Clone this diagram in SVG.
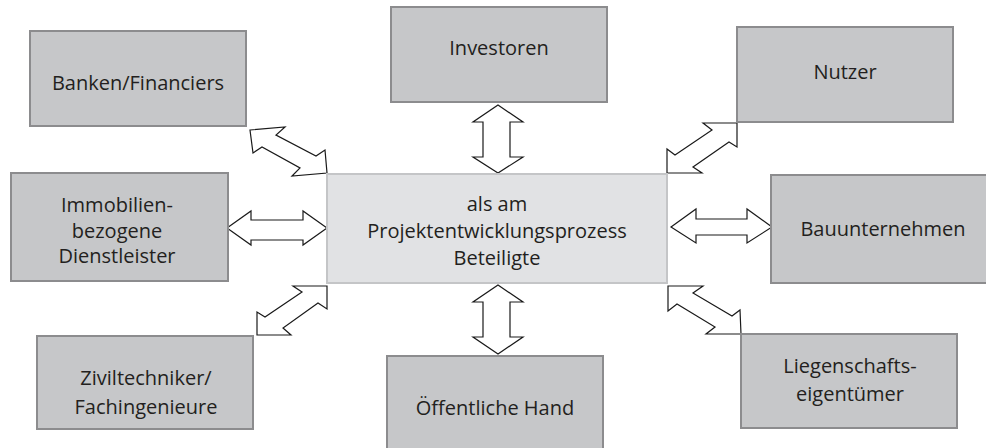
<svg xmlns="http://www.w3.org/2000/svg" width="986" height="448" viewBox="0 0 986 448">
<style>
.box{fill:#c6c7c9;stroke:#8c8c8e;stroke-width:2}
.ctr{fill:#e1e2e4;stroke:#c4c5c7;stroke-width:2}
.t{font-family:"Open Sans","Liberation Sans",sans-serif;font-size:20px;fill:#231f20;text-anchor:middle}
.arr{fill:#fff;stroke:#1a1a1a;stroke-width:1.2;stroke-linejoin:miter}
</style>
<rect width="986" height="448" fill="#fff"/>
<g id="connectors">
<polygon class="arr" points="498,105 523,122 510,122 510,157 523,157 498,173 473,157 483,157 483,122 473,122"/>
<polygon class="arr" points="498,285 523,302 510,302 510,337 523,337 498,354 473,337 483,337 483,302 473,302"/>
<polygon class="arr" points="227,228 251,211 251,220 303,220 303,211 327,228 303,245 303,240 251,240 251,245"/>
<polygon class="arr" points="671,227 696,209 696,219 747,219 747,209 772,227 747,243 747,235 696,235 696,243"/>
<polygon class="arr" points="250,130 285,127 276,135 316,156 325,150 327,173 292,176 300,168 262,147 253,153"/>
<polygon class="arr" points="737,123 737,147 729,142 693,167 702,173 667,173 667,149 675,155 712,130 703,123"/>
<polygon class="arr" points="327,286 327,309 318,303 283,328 291,335 257,335 257,312 265,317 302,292 293,286"/>
<polygon class="arr" points="668,286 703,286 693,293 732,316 740,310 741,334 706,334 715,327 677,304 668,311"/>
</g>
<g id="center"><rect class="ctr" x="327" y="174" width="340" height="109"/>
<text class="t" x="497" y="211">als am</text><text class="t" x="497" y="238">Projektentwicklungsprozess</text><text class="t" x="497" y="265">Beteiligte</text></g>
<g id="banken"><rect class="box" x="30" y="31" width="216" height="95"/><text class="t" x="138" y="90">Banken/Financiers</text></g>
<g id="investoren"><rect class="box" x="391" y="7" width="216" height="95"/><text class="t" x="499" y="55">Investoren</text></g>
<g id="nutzer"><rect class="box" x="737" y="27" width="216" height="95"/><text class="t" x="845" y="79">Nutzer</text></g>
<g id="immobilien"><rect class="box" x="11" y="173" width="217" height="108"/><text class="t" x="117" y="212">Immobilien-</text><text class="t" x="117" y="237.5">bezogene</text><text class="t" x="117" y="263">Dienstleister</text></g>
<g id="bau"><rect class="box" x="771" y="175" width="218" height="108"/><text class="t" x="883" y="236">Bauunternehmen</text></g>
<g id="zivil"><rect class="box" x="37" y="336" width="216" height="93"/><text class="t" x="146" y="385">Ziviltechniker/</text><text class="t" x="146" y="414">Fachingenieure</text></g>
<g id="oeffentlich"><rect class="box" x="387" y="356" width="216" height="96"/><text class="t" x="495" y="415">Öffentliche Hand</text></g>
<g id="liegenschaft"><rect class="box" x="741" y="334" width="216" height="94"/><text class="t" x="850" y="373">Liegenschafts-</text><text class="t" x="850" y="401">eigentümer</text></g>
</svg>
